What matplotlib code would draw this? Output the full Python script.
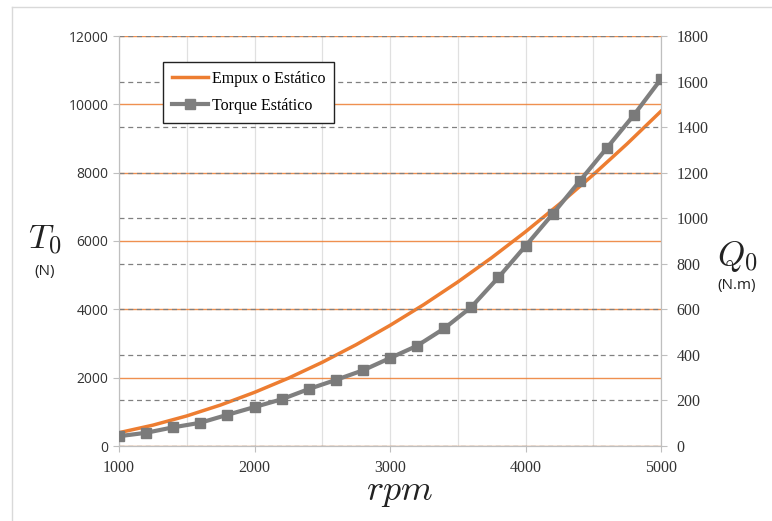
import matplotlib
matplotlib.use("Agg")
import matplotlib.pyplot as plt
from matplotlib.lines import Line2D

plt.rcParams["mathtext.fontset"] = "cm"

# ── data ─────────────────────────────────────────────────────────────────────
rpm_thrust = [1000, 1250, 1500, 1750, 2000, 2250, 2500, 2750, 3000,
              3250, 3500, 3750, 4000, 4250, 4500, 4750, 5000]
thrust_N = [390, 610, 880, 1200, 1570, 1985, 2450, 2965, 3530,
            4140, 4800, 5510, 6270, 7080, 7940, 8845, 9800]

rpm_torque = [1000, 1200, 1400, 1600, 1800, 2000, 2200, 2400, 2600, 2800,
              3000, 3200, 3400, 3600, 3800, 4000, 4200, 4400, 4600, 4800, 5000]
torque_Nm = [43, 58, 82, 102, 137, 171, 205, 250, 290, 332,
             386, 440, 516, 610, 740, 878, 1018, 1163, 1308, 1453, 1611]

left_ticks = [0, 2000, 4000, 6000, 8000, 10000, 12000]
right_ticks = [0, 200, 400, 600, 800, 1000, 1200, 1400, 1600, 1800]
x_ticks = [1000, 2000, 3000, 4000, 5000]

C_THRUST = "#ED7D31"
C_TORQUE = "#7F7F7F"
C_TEXT = "#333333"

fig = plt.figure(figsize=(7.72, 5.21), dpi=100)
fig.patch.set_facecolor("white")
ax = fig.add_axes([119/772, 75/521, 542/772, 410/521])
ax2 = ax.twinx()

# left axis: thrust
ax.set_xlim(1000, 5000)
ax.set_ylim(0, 12000)
ax.set_xticks(x_ticks)
ax.set_xticks(range(1000, 5001, 500), minor=True)
ax.set_yticks(left_ticks)
ax.grid(True, axis="x", which="both", color="#E0E0E0", lw=0.9)
ax.grid(True, axis="y", color=C_THRUST, lw=1.0, alpha=0.85)
ax.plot(rpm_thrust, thrust_N, color=C_THRUST, lw=2.5, zorder=3)

# right axis: torque
ax2.set_ylim(0, 1800)
ax2.set_yticks(right_ticks)
ax2.grid(True, axis="y", color="#808080", lw=0.9, ls=(0, (4, 3)))
ax2.plot(rpm_torque, torque_Nm, color=C_TORQUE, lw=3, marker="s",
         markersize=7.5, markerfacecolor="#7a7a7a", markeredgecolor="#7a7a7a",
         zorder=3)

for a in (ax, ax2):
    for s in a.spines.values():
        s.set_color("#BFBFBF")
    a.spines["top"].set_visible(False)
    a.tick_params(which="both", length=4, color="#BFBFBF", colors=C_TEXT)
ax.tick_params(axis="x", which="minor", length=0)
ax2.tick_params(axis="y", pad=7)

for lbl in ax.get_yticklabels():
    lbl.set_fontfamily("Open Sans")
    lbl.set_fontsize(10)
for lbl in ax.get_xticklabels() + ax2.get_yticklabels():
    lbl.set_fontfamily("Liberation Serif")
    lbl.set_fontsize(11.5)
ax.tick_params(axis="x", pad=6)

# axis titles
fig.text(45/772, 1 - 240/521, r"$T_0$", fontsize=25, ha="center", va="center",
         color="#222222")
fig.text(45/772, 1 - 272/521, "(N)", fontsize=11, ha="center", va="center",
         color="#222222", family="Open Sans")
fig.text(737/772, 1 - 257/521, r"$Q_0$", fontsize=25, ha="center", va="center",
         color="#222222")
fig.text(737/772, 1 - 286/521, "(N.m)", fontsize=11, ha="center", va="center",
         color="#222222", family="Open Sans")
fig.text(400/772, 1 - 492/521, r"$rpm$", fontsize=26, ha="center", va="center",
         color="#222222")

# legend
handles = [Line2D([], [], color=C_THRUST, lw=2.5),
           Line2D([], [], color=C_TORQUE, lw=3, marker="s", markersize=7.5)]
leg = ax2.legend(handles, ["Empux o Estático", "Torque Estático"],
                 loc="upper left", bbox_to_anchor=(0.081, 0.937),
                 borderaxespad=0, frameon=True, fancybox=False, framealpha=1,
                 prop={"family": "Liberation Serif", "size": 11.5},
                 handlelength=2.3, handletextpad=0.2, borderpad=0.55,
                 labelspacing=0.7)
leg.get_frame().set_edgecolor("#222222")
leg.get_frame().set_linewidth(1.0)

# outer frame of the picture
fig.add_artist(Line2D([12/772, 12/772], [0, 1 - 7/521], color="#D9D9D9", lw=1))
fig.add_artist(Line2D([12/772, 1], [1 - 7/521, 1 - 7/521], color="#D9D9D9", lw=1))

fig.savefig("out.png", dpi=100, facecolor="white")
